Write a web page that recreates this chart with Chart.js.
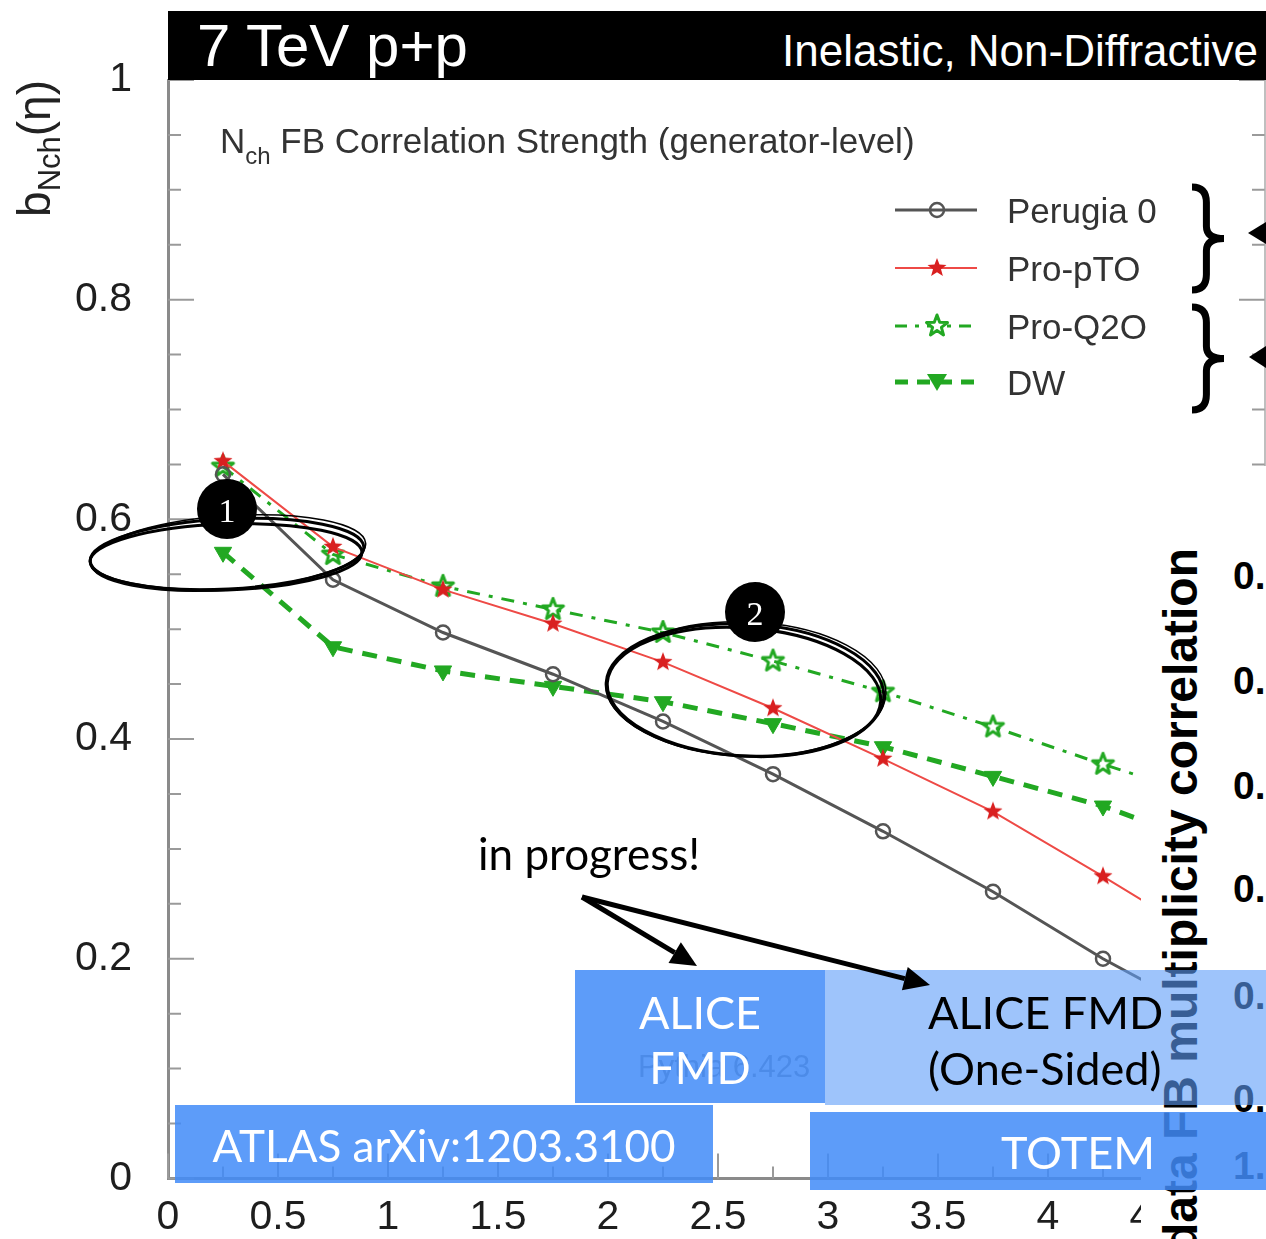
<!DOCTYPE html>
<html lang="en">
<head>
<meta charset="utf-8">
<title>Nch FB correlation strength</title>
<script src="https://cdn.jsdelivr.net/npm/chart.js@4.4.1/dist/chart.umd.min.js"></script>
<style>
  html, body { margin: 0; padding: 0; overflow: hidden; background: #fff; }
  body { position: relative; width: 1266px; height: 1239px; font-family: "Liberation Sans", Arial, sans-serif; }
  #chart { position: absolute; left: 0; top: 0; z-index: 1; }
  .t { position: absolute; white-space: nowrap; line-height: 1; }
  .c { transform: translate(-50%, -50%); }
  .m { transform: translateY(-50%); }
  .slide { font-family: Lato, "Open Sans", sans-serif; }
  .rot { position: absolute; width: 900px; text-align: right; white-space: nowrap; line-height: 1;
         transform-origin: 100% 0; transform: rotate(-90deg); }
  #titlebar { position: absolute; left: 168px; top: 11px; width: 1098px; height: 69px; background: #000; z-index: 2; }
  #panel { position: absolute; left: 1141px; top: 466px; width: 125px; height: 773px; background: #fff; z-index: 3; }
  .box { position: absolute; z-index: 5; }
  .dark { background: rgba(65, 139, 248, 0.85); }
  .light { background: rgba(93, 157, 248, 0.6); }
  #deco { position: absolute; left: 0; top: 0; z-index: 6; }
</style>
</head>
<body>
<canvas id="chart" width="1300" height="1239"></canvas>

<div id="titlebar">
  <div class="t m" style="left:29px; top:35px; color:#fff; font-size:60px;">7 TeV p+p</div>
  <div class="t m" style="right:8px; top:40px; color:#fff; font-size:44px;">Inelastic, Non-Diffractive</div>
</div>

<div class="t m" style="left:220px; top:140px; font-size:35px; color:#333; z-index:2;">N<span style="font-size:24px; position:relative; top:11px;">ch</span> FB Correlation Strength (generator-level)</div>

<div class="rot" style="left:-889px; top:80px; font-size:46px; color:#222; z-index:2;">b<span style="font-size:31px; position:relative; top:10px;">Nch</span>(η)</div>

<div id="legend"></div>

<div class="t m" style="left:638px; top:1066px; font-size:31px; color:#909090; z-index:4;">Pythia 6.423</div>

<div id="panel"></div>
<div class="rot" style="left:257px; top:548px; font-size:48px; font-weight:bold; color:#000; z-index:4;">data FB multiplicity correlation</div>
<div id="sideLabels"></div>

<div class="box dark" style="left:575px; top:970px; width:250px; height:133px;"></div>
<div class="box light" style="left:825px; top:970px; width:441px; height:135px;"></div>
<div class="box dark" style="left:175px; top:1105px; width:538px; height:78px;"></div>
<div class="box dark" style="left:810px; top:1112px; width:456px; height:78px;"></div>

<svg id="deco" width="1266" height="1239" xmlns="http://www.w3.org/2000/svg"></svg>

<div class="t c slide" style="left:700px; top:1012px; font-size:45px; color:#fff; z-index:7;">ALICE</div>
<div class="t c slide" style="left:700px; top:1067px; font-size:45px; color:#fff; z-index:7;">FMD</div>
<div class="t m slide" style="left:928px; top:1012px; font-size:45px; color:#000; z-index:7;">ALICE FMD</div>
<div class="t m slide" style="left:928px; top:1068px; font-size:45px; color:#000; z-index:7;">(One-Sided)</div>
<div class="t c slide" style="left:444px; top:1145px; font-size:44px; color:#fff; z-index:7;">ATLAS arXiv:1203.3100</div>
<div class="t c slide" style="left:1078px; top:1152px; font-size:45px; color:#fff; z-index:7;">TOTEM</div>
<div class="t slide" style="left:478px; top:831px; font-size:44px; color:#000; z-index:7;">in progress!</div>

<script>
// tune names and b_Nch values, one value per eta bin
const seriesNames = ['Perugia 0', 'Pro-pTO', 'Pro-Q2O', 'DW'];
const etaCenters = [0.25, 0.75, 1.25, 1.75, 2.25, 2.75, 3.25, 3.75, 4.25, 4.75];
const perugia0 = [0.641, 0.545, 0.497, 0.459, 0.416, 0.368, 0.316, 0.261, 0.200, 0.146];
const proPTO   = [0.653, 0.575, 0.536, 0.505, 0.470, 0.428, 0.382, 0.334, 0.275, 0.214];
const proQ2O   = [0.648, 0.568, 0.539, 0.518, 0.497, 0.471, 0.443, 0.411, 0.377, 0.345];
const dwTune   = [0.570, 0.484, 0.462, 0.448, 0.434, 0.414, 0.393, 0.366, 0.339, 0.302];

const xTickValues = [0, 0.5, 1, 1.5, 2, 2.5, 3, 3.5, 4, 4.5, 5];
const yTickValues = [0, 0.2, 0.4, 0.6, 0.8, 1];
const sideLabels = ['0.', '0.', '0.', '0.', '0.', '0.', '1.'];

const gray = '#555555';
const red = '#ee4a46';
const green = '#22a822';

function starCanvas(r, fill, stroke, lw) {
  const s = Math.ceil(2 * r + lw + 2);
  const cv = document.createElement('canvas');
  cv.width = s; cv.height = s;
  const g = cv.getContext('2d');
  g.beginPath();
  for (let i = 0; i < 10; i++) {
    const rr = i % 2 ? r * 0.42 : r;
    const a = -Math.PI / 2 + i * Math.PI / 5;
    g.lineTo(s / 2 + rr * Math.cos(a), s / 2 + rr * Math.sin(a));
  }
  g.closePath();
  if (fill) { g.fillStyle = fill; g.fill(); }
  if (stroke) { g.strokeStyle = stroke; g.lineWidth = lw; g.lineJoin = 'round'; g.stroke(); }
  return cv;
}

const redStar = starCanvas(10, '#d92020', null, 0);
const greenStar = starCanvas(11, null, green, 3);

const toPoints = ys => ys.map((y, i) => ({ x: etaCenters[i], y: y }));

// ticks pointing into the frame, like the ROOT plot
const innerTicks = {
  id: 'innerTicks',
  beforeDatasetsDraw(c) {
    const { ctx, chartArea: a, scales: { x, y } } = c;
    const rx = a.right - 3;
    ctx.save();
    ctx.strokeStyle = '#9a9a9a';
    ctx.lineWidth = 2;
    ctx.beginPath();
    for (let i = 0; i <= 20; i++) {
      const py = y.getPixelForValue(i * 0.05);
      const len = i % 4 === 0 ? 26 : 13;
      ctx.moveTo(a.left, py); ctx.lineTo(a.left + len, py);
      ctx.moveTo(rx, py); ctx.lineTo(rx - len, py);
    }
    for (let i = 0; i <= 20; i++) {
      const px = x.getPixelForValue(i * 0.25);
      const len = i % 2 === 0 ? 25 : 12;
      ctx.moveTo(px, a.bottom); ctx.lineTo(px, a.bottom - len);
    }
    ctx.stroke();
    ctx.lineWidth = 1.5;
    ctx.strokeStyle = '#aaaaaa';
    ctx.beginPath();
    ctx.moveTo(rx, a.top); ctx.lineTo(rx, a.bottom);
    ctx.stroke();
    ctx.restore();
  }
};

const tickFont = { family: '"Liberation Sans", Arial, sans-serif', size: 41 };

new Chart(document.getElementById('chart'), {
  type: 'line',
  data: {
    datasets: [
      {
        label: seriesNames[0], data: toPoints(perugia0),
        borderColor: gray, borderWidth: 3,
        pointStyle: 'circle', pointRadius: 7, pointBorderWidth: 2.5,
        pointBorderColor: gray, pointBackgroundColor: 'rgba(0,0,0,0)'
      },
      {
        label: seriesNames[1], data: toPoints(proPTO),
        borderColor: red, borderWidth: 2,
        pointStyle: redStar, pointRadius: 9
      },
      {
        label: seriesNames[2], data: toPoints(proQ2O),
        borderColor: green, borderWidth: 3, borderDash: [13, 9, 4, 9],
        pointStyle: greenStar, pointRadius: 10
      },
      {
        label: seriesNames[3], data: toPoints(dwTune),
        borderColor: green, borderWidth: 5, borderDash: [15, 10],
        pointStyle: 'triangle', pointRotation: 180, pointRadius: 10,
        pointBackgroundColor: green, pointBorderColor: green, pointBorderWidth: 1
      }
    ]
  },
  options: {
    responsive: false,
    animation: false,
    layout: { padding: { top: 80, right: 32, left: 0, bottom: 0 } },
    elements: { line: { tension: 0 } },
    plugins: { legend: { display: false }, tooltip: { enabled: false } },
    scales: {
      x: {
        type: 'linear', min: 0, max: 5,
        afterBuildTicks: s => { s.ticks = xTickValues.map(v => ({ value: v })); },
        afterFit: s => { s.height = 59; },
        grid: { drawOnChartArea: false, drawTicks: false },
        border: { color: '#8a8a8a', width: 3 },
        ticks: { padding: 15, color: '#1e1e1e', font: tickFont, maxRotation: 0, autoSkip: false,
                 callback: v => String(v) }
      },
      y: {
        min: 0, max: 1,
        afterBuildTicks: s => { s.ticks = yTickValues.map(v => ({ value: v })); },
        afterFit: s => { s.width = 168; },
        grid: { drawOnChartArea: false, drawTicks: false },
        border: { color: '#8a8a8a', width: 3 },
        ticks: { padding: 36, color: '#1e1e1e', font: tickFont, callback: v => String(v) }
      }
    }
  },
  plugins: [innerTicks]
});

// legend labels
const legendY = [210, 268, 326, 382];
let legendHtml = '';
seriesNames.forEach((name, i) => {
  legendHtml += `<div class="t m" style="left:1007px; top:${legendY[i]}px; font-size:35px; color:#333; z-index:2;">${name}</div>`;
});
document.getElementById('legend').innerHTML = legendHtml;

// cut-off labels of the neighbouring plot
const sideY = [575, 680, 785, 888, 995, 1098, 1165];
let sideHtml = '';
sideLabels.forEach((txt, i) => {
  sideHtml += `<div class="t m" style="left:1233px; top:${sideY[i]}px; font-size:39px; font-weight:bold; color:#000; z-index:4;">${txt}</div>`;
});
document.getElementById('sideLabels').innerHTML = sideHtml;

function starPts(cx, cy, r) {
  const pts = [];
  for (let i = 0; i < 10; i++) {
    const rr = i % 2 ? r * 0.42 : r;
    const a = -Math.PI / 2 + i * Math.PI / 5;
    pts.push((cx + rr * Math.cos(a)).toFixed(1) + ',' + (cy + rr * Math.sin(a)).toFixed(1));
  }
  return pts.join(' ');
}

function arrow(x1, y1, x2, y2, len, half) {
  const d = Math.hypot(x2 - x1, y2 - y1);
  const ux = (x2 - x1) / d, uy = (y2 - y1) / d;
  const bx = x2 - ux * len, by = y2 - uy * len;
  return `<line x1="${x1}" y1="${y1}" x2="${bx}" y2="${by}" stroke="#000" stroke-width="5"/>` +
    `<polygon fill="#000" points="${x2},${y2} ${bx - uy * half},${by + ux * half} ${bx + uy * half},${by - ux * half}"/>`;
}

function brace(x0, y0, w, h) {
  const m = x0 + w * 0.45;
  return `<path fill="none" stroke="#000" stroke-width="7" d="M${x0},${y0} Q${m},${y0} ${m},${y0 + h * 0.15} L${m},${y0 + h * 0.38} Q${m},${y0 + h * 0.5} ${x0 + w},${y0 + h * 0.5} Q${m},${y0 + h * 0.5} ${m},${y0 + h * 0.62} L${m},${y0 + h * 0.85} Q${m},${y0 + h} ${x0},${y0 + h}"/>`;
}

let svg = '';
// legend samples
svg += `<line x1="895" y1="210" x2="977" y2="210" stroke="${gray}" stroke-width="3"/>`;
svg += `<circle cx="937" cy="210" r="7" fill="none" stroke="${gray}" stroke-width="2.5"/>`;
svg += `<line x1="895" y1="268" x2="977" y2="268" stroke="${red}" stroke-width="2"/>`;
svg += `<polygon points="${starPts(937, 268, 10)}" fill="#d92020"/>`;
svg += `<line x1="895" y1="326" x2="977" y2="326" stroke="${green}" stroke-width="3" stroke-dasharray="12 8 4 8"/>`;
svg += `<polygon points="${starPts(937, 326, 11)}" fill="#fff" stroke="${green}" stroke-width="3" stroke-linejoin="round"/>`;
svg += `<line x1="895" y1="382" x2="977" y2="382" stroke="${green}" stroke-width="5" stroke-dasharray="13 9"/>`;
svg += `<polygon points="927,374 947,374 937,391" fill="${green}"/>`;

// braces and arrow heads on the right
svg += brace(1192, 187, 32, 103);
svg += brace(1192, 307, 32, 103);
svg += `<polygon points="1248,233 1266,222 1266,244" fill="#000"/>`;
svg += `<polygon points="1249,357 1266,346 1266,368" fill="#000"/>`;

// hand drawn ellipses
svg += `<g fill="none" stroke="#000">
  <ellipse cx="227" cy="554" rx="137" ry="35" transform="rotate(-3 227 554)" stroke-width="3"/>
  <ellipse cx="226" cy="557" rx="136" ry="33" transform="rotate(-2 226 557)" stroke-width="3"/>
  <ellipse cx="228" cy="553" rx="138" ry="37" transform="rotate(-4 228 553)" stroke-width="1.5"/>
  <ellipse cx="745" cy="690" rx="139" ry="66" transform="rotate(3 745 690)" stroke-width="3"/>
  <ellipse cx="744" cy="692" rx="137" ry="64" transform="rotate(4 744 692)" stroke-width="3"/>
  <ellipse cx="746" cy="689" rx="140" ry="67" transform="rotate(2 746 689)" stroke-width="1.5"/>
</g>`;

// numbered markers
svg += `<circle cx="227" cy="509" r="30" fill="#000"/>`;
svg += `<text x="227" y="510" fill="#fff" font-family="Liberation Serif" font-size="34" text-anchor="middle" dominant-baseline="central">1</text>`;
svg += `<circle cx="755" cy="612" r="30" fill="#000"/>`;
svg += `<text x="755" y="613" fill="#fff" font-family="Liberation Serif" font-size="34" text-anchor="middle" dominant-baseline="central">2</text>`;

// arrows from "in progress!"
svg += arrow(582, 897, 697, 966, 26, 12);
svg += arrow(582, 897, 930, 985, 26, 12);

document.getElementById('deco').innerHTML = svg;
</script>
</body>
</html>
